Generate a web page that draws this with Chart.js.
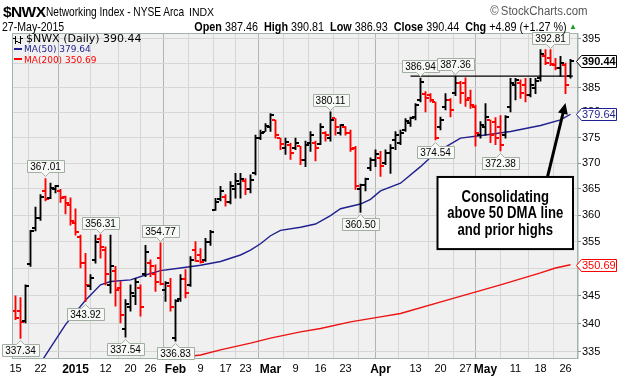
<!DOCTYPE html>
<html><head><meta charset="utf-8">
<script src="https://cdn.jsdelivr.net/npm/chart.js@4.4.1/dist/chart.umd.min.js"></script>
<style>
html,body{margin:0;padding:0;background:#fff;}
#wrap{position:relative;width:617px;height:377px;font-family:"Liberation Sans",Arial,sans-serif;overflow:hidden;}
canvas{position:absolute;left:0;top:0;}
.t{position:absolute;white-space:nowrap;color:#000;line-height:1;}
</style></head><body>
<div id="wrap">
<canvas id="c" width="617" height="377"></canvas>
<div class="t" style="left:3px;top:4px;font-size:15.5px;font-weight:bold;letter-spacing:-0.6px;">$NWX</div>
<div class="t" style="left:46px;top:5px;font-size:13px;transform:scaleX(0.78);transform-origin:0 0;">Networking Index - NYSE Arca</div>
<div class="t" style="left:189px;top:7px;font-size:10.5px;">INDX</div>
<div class="t" style="right:29px;top:5px;font-size:12px;color:#555;transform:scaleX(0.95);transform-origin:100% 0;">&copy;&thinsp;StockCharts.com</div>
<div class="t" style="left:2px;top:21px;font-size:12px;transform:scaleX(0.88);transform-origin:0 0;">27-May-2015</div>
<div class="t" style="right:50px;top:21px;font-size:12px;transform:scaleX(0.9);transform-origin:100% 0;"><b>Open</b> 387.46 &nbsp;<b>High</b> 390.81 &nbsp;<b>Low</b> 386.93 &nbsp;<b>Close</b> 390.44 &nbsp;<b>Chg</b> +4.89 (+1.27 %)</div>
<div class="t" style="right:40px;top:23px;font-size:8px;color:#19a019;">&#9650;</div>
</div>
<script>
// ---- data ----
const openP  = [342.3,342.2,340.5,350.8,357.5,359.5,364.6,363.2,365.0,364.5,363.4,362.0,358.5,355.9,351.0,346.8,351.5,355.5,353.5,347.0,349.5,346.5,339.0,343.0,345.0,346.5,349.0,351.0,349.0,352.0,346.0,346.8,337.5,344.5,348.0,347.0,353.5,352.5,351.5,355.0,361.0,363.0,363.5,362.5,365.0,366.0,366.5,365.0,368.0,375.0,376.2,377.0,378.5,374.9,373.0,373.5,373.0,373.3,370.5,374.0,374.0,373.8,376.0,375.0,378.8,376.0,377.0,376.0,373.0,365.0,365.8,369.0,370.5,371.0,370.0,372.0,374.5,374.0,376.5,377.8,379.0,382.5,383.8,383.5,382.0,377.0,381.0,382.5,384.0,386.0,386.0,383.0,381.0,375.5,377.0,378.5,378.0,377.0,375.5,381.0,385.5,386.0,385.5,383.5,385.0,387.0,391.5,391.0,389.7,389.0,389.7,387.46];
const highP  = [345.0,344.7,347.0,357.1,361.5,363.9,367.01,366.1,365.7,364.9,363.6,363.3,361.2,356.2,352.8,348.9,356.2,356.31,354.0,356.2,350.4,347.6,344.3,347.0,348.2,347.0,354.3,351.6,350.7,354.77,347.6,348.2,344.3,348.9,349.8,352.2,355.0,353.7,355.6,357.1,363.2,365.5,363.9,366.4,368.0,368.0,367.0,367.7,375.5,376.5,377.8,379.8,378.5,374.9,374.9,373.9,374.9,373.3,374.3,376.2,374.3,377.8,376.2,380.11,378.8,377.6,377.2,376.5,373.3,365.9,367.1,371.0,372.6,372.3,372.6,373.6,376.2,376.5,378.8,379.1,381.8,386.94,384.2,383.8,382.1,379.1,383.8,382.8,387.36,386.3,387.0,384.5,381.5,378.2,381.8,378.5,379.0,379.4,379.4,386.9,386.9,386.6,386.9,386.9,386.9,392.8,392.8,392.81,391.0,391.4,390.0,390.81];
const lowP   = [340.7,337.34,340.1,350.4,357.0,359.0,362.7,363.1,364.2,362.4,360.2,358.1,356.2,350.1,343.92,346.1,351.0,351.9,347.0,345.5,343.1,340.1,337.54,342.2,343.4,341.3,348.5,348.5,345.8,347.0,344.0,342.2,336.83,344.0,344.6,346.7,351.3,351.0,351.3,354.3,360.9,362.7,361.7,362.1,363.2,363.2,363.9,364.2,367.7,374.6,376.2,376.2,374.9,372.6,371.7,370.7,372.6,369.7,369.3,372.3,370.4,373.6,374.3,374.3,375.5,375.5,375.5,372.3,364.9,360.50,364.6,368.5,369.3,367.4,369.7,368.0,372.6,373.6,376.2,377.2,378.5,382.1,380.1,382.1,374.54,376.5,380.5,379.1,383.4,381.8,381.2,380.8,373.3,374.9,375.5,374.0,373.6,372.38,374.9,380.1,382.5,382.8,382.1,383.1,383.8,386.3,389.7,389.5,388.6,387.3,383.8,386.93];
const closeP = [341.0,340.2,346.8,357.0,359.5,363.4,363.0,365.2,365.5,363.3,362.3,358.8,356.8,351.0,347.0,348.3,355.0,354.0,349.0,350.5,346.0,341.5,343.5,345.5,347.5,343.0,353.0,350.5,347.5,347.2,347.4,343.0,344.0,348.0,345.5,351.5,351.3,351.2,355.0,356.8,362.5,364.5,362.5,365.5,366.5,367.0,365.0,366.8,375.0,376.0,377.2,379.5,375.5,373.8,374.2,372.0,374.0,370.5,373.5,375.5,373.0,377.0,375.5,378.5,377.0,377.4,376.0,372.8,365.5,365.7,366.9,370.5,371.8,369.5,372.0,373.0,375.5,376.0,378.2,378.8,381.5,386.2,383.0,382.6,375.0,378.5,382.5,380.5,386.0,384.0,382.5,381.5,376.0,377.5,379.0,375.5,375.0,373.5,379.0,386.0,386.5,384.0,383.5,385.5,386.3,391.8,390.0,389.8,389.0,390.0,385.55,390.44];

const ma50Idx = [5,10,14,17,19,23,26,29,33,37,41,45,47,49,51,53,57,60,63,65,69,71,73,77,81,84,89,94,99,105,109,111];
const ma50Val = [333.0,339.8,344.2,347.0,347.6,347.9,348.8,349.6,350.1,350.6,351.3,352.5,353.4,354.6,356.1,357.1,357.7,358.3,359.9,361.2,362.1,363.0,364.6,366.1,369.3,372.0,374.9,375.5,376.2,377.4,378.5,379.64];
const ma200Idx = [28,33,37,41,47,51,57,61,67,73,77,87,97,105,108,111];
const ma200Val = [333.6,334.0,334.4,335.3,336.5,337.4,338.5,339.1,340.3,341.2,341.8,344.4,347.0,349.2,350.1,350.69];

const xTickIdx = [0,5,12,18,23,27,32,37,42,46,51,56,61,66,71,73,80,85,90,94,100,105,110];
const xTickLbl = ['15','22','2015','12','20','26','Feb','9','17','23','Mar','9','16','23','','Apr','13','20','27','May','11','18','26'];
const yTickVals = [335,340,345,350,355,360,365,370,375,380,385,390,395];

const markIdx  = [1,6,14,17,22,29,32,63,69,81,84,88,97,107];
const markType = ['L','H','L','H','L','H','L','H','L','H','L','H','L','H'];

const resistLevel = 387.36;
const resistFrom = 79;
const noteLines = ['Consolidating','above 50 DMA line','and prior highs'];
const legendMain = '$NWX (Daily) 390.44';
const legendMA50 = 'MA(50) 379.64';
const legendMA200 = 'MA(200) 350.69';

// ---- helpers ----
const RED = '#ff0000', BLK = '#000000', NAVY = '#1f1f8f', MARED = '#ee1111';
const N = closeP.length;
const idx = Array.from({length:N},(_,i)=>i);
const barColor = idx.map(i => closeP[i] < (i ? closeP[i-1] : openP[i]) ? RED : BLK);
function tickImg(side,color){
  const c=document.createElement('canvas');c.width=11;c.height=2;
  const g=c.getContext('2d');g.fillStyle=color;
  if(side==='L') g.fillRect(2,0,3,2); else g.fillRect(6,0,3,2);
  return c;
}
const imgs = {L:{[RED]:tickImg('L',RED),[BLK]:tickImg('L',BLK)},R:{[RED]:tickImg('R',RED),[BLK]:tickImg('R',BLK)}};

const bgPlugin = {
  id:'bg',
  beforeDraw(chart){
    const {ctx,chartArea:a}=chart;
    ctx.save();ctx.fillStyle='#f0f0f0';ctx.fillRect(Math.floor(a.left),a.top,a.right-Math.floor(a.left),a.bottom-a.top);ctx.restore();
  },
  afterDraw(chart){
    const {ctx,chartArea:a,scales}=chart;
    const xs=scales.x, ys=scales.y;
    ctx.save();
    ctx.strokeStyle='#9fb4aa';ctx.lineWidth=1;
    ctx.strokeRect(Math.floor(a.left)+0.5,a.top+0.5,a.right-Math.floor(a.left)-1,a.bottom-a.top-1);
    // callouts
    ctx.font='10px "Liberation Sans", Arial, sans-serif';
    ctx.textAlign='center';ctx.textBaseline='middle';
    markIdx.forEach((i,k)=>{
      const hi = markType[k]==='H';
      const v = hi ? highP[i] : lowP[i];
      const px = Math.floor(xs.getPixelForValue(i))+0.5;
      const py = ys.getPixelForValue(v);
      const txt = v.toFixed(2);
      const w = Math.round(ctx.measureText(txt).width)+6, h=12;
      const bx = Math.round(px - w/2)+0.5;
      let by = hi ? Math.round(py - 6 - h)+0.5 : Math.round(py + 6)+0.5;
      ctx.beginPath();
      if(hi){
        ctx.moveTo(bx,by);ctx.lineTo(bx+w,by);ctx.lineTo(bx+w,by+h);
        ctx.lineTo(px+4,by+h);ctx.lineTo(px,by+h+4);ctx.lineTo(px-4,by+h);ctx.lineTo(bx,by+h);
      } else {
        ctx.moveTo(bx,by);ctx.lineTo(px-4,by);ctx.lineTo(px,by-4);ctx.lineTo(px+4,by);
        ctx.lineTo(bx+w,by);ctx.lineTo(bx+w,by+h);ctx.lineTo(bx,by+h);
      }
      ctx.closePath();
      ctx.fillStyle='#f7f9f7';ctx.fill();
      ctx.strokeStyle='#a3aea3';ctx.lineWidth=1;ctx.stroke();
      ctx.fillStyle='#000';ctx.fillText(txt,px,by+h/2+0.5);
    });
    // note box
    const l=xs.getPixelForValue(84.4), r=xs.getPixelForValue(111.5);
    const t=ys.getPixelForValue(367.3), b=ys.getPixelForValue(353.6);
    ctx.fillStyle='#fff';ctx.fillRect(l,t,r-l,b-t);
    ctx.strokeStyle='#000';ctx.lineWidth=2;ctx.strokeRect(l,t,r-l,b-t);
    ctx.font='bold 16px "Liberation Sans", Arial, sans-serif';
    ctx.fillStyle='#000';
    const cx=(l+r)/2, cy=(t+b)/2;
    noteLines.forEach((s,k)=>{
      ctx.save();ctx.translate(cx,cy+(k-1)*16.3+1);ctx.scale(0.82,1);ctx.fillText(s,0,0);ctx.restore();
    });
    // arrow
    const ax0=xs.getPixelForValue(106.4), ay0=t;
    const ax1=xs.getPixelForValue(110), ay1=ys.getPixelForValue(381.9);
    const ang=Math.atan2(ay1-ay0,ax1-ax0);
    ctx.strokeStyle='#000';ctx.lineWidth=3;
    ctx.beginPath();ctx.moveTo(ax0,ay0);ctx.lineTo(ax1-8*Math.cos(ang),ay1-8*Math.sin(ang));ctx.stroke();
    ctx.beginPath();ctx.moveTo(ax1,ay1);
    ctx.lineTo(ax1-11*Math.cos(ang)+5*Math.sin(ang),ay1-11*Math.sin(ang)-5*Math.cos(ang));
    ctx.lineTo(ax1-11*Math.cos(ang)-5*Math.sin(ang),ay1-11*Math.sin(ang)+5*Math.cos(ang));
    ctx.closePath();ctx.fillStyle='#000';ctx.fill();
    // right value tags
    const tags=[[closeP[N-1],'#000',true],[ma50Val[ma50Val.length-1],NAVY,false],[ma200Val[ma200Val.length-1],RED,false]];
    tags.forEach(([v,col,bold])=>{
      const py=Math.round(ys.getPixelForValue(v))+0.5;
      const x0=a.right-1.5, x1=a.right+3.5, x2=616.5;
      ctx.beginPath();ctx.moveTo(x0,py);ctx.lineTo(x1,py-6);ctx.lineTo(x2,py-6);ctx.lineTo(x2,py+6);ctx.lineTo(x1,py+6);ctx.closePath();
      ctx.fillStyle='#fff';ctx.fill();ctx.strokeStyle=col;ctx.lineWidth=1;ctx.stroke();
      ctx.font=(bold?'bold 11px ':'11px ')+'"Liberation Sans", Arial, sans-serif';
      ctx.fillStyle=col;ctx.textAlign='left';
      ctx.fillText(v.toFixed(2),a.right+4,py+0.5);
    });
    // legend
    ctx.textAlign='left';ctx.textBaseline='alphabetic';
    ctx.fillStyle='#000';
    ctx.fillRect(15,36,1,8);ctx.fillRect(13,38,2,1);ctx.fillRect(16,41,2,1);
    ctx.fillRect(20,36,1,8);ctx.fillRect(18,42,2,1);ctx.fillRect(21,38,2,1);
    ctx.font='11px "DejaVu Sans", Verdana, sans-serif';
    ctx.fillText(legendMain,26,42);
    ctx.font='9px "DejaVu Sans", Verdana, sans-serif';
    ctx.fillStyle=NAVY;ctx.fillRect(14,48,8,2);ctx.fillText(legendMA50,24,52);
    ctx.fillStyle=RED;ctx.fillRect(14,58,8,2);ctx.fillText(legendMA200,24,63);
    ctx.restore();
  }
};

const isBoldLbl = s => ['2015','Feb','Mar','Apr','May'].includes(s);
const FAM='"Liberation Sans", Arial, sans-serif';

new Chart(document.getElementById('c'),{
  type:'bar',
  data:{datasets:[
    {type:'line',data:ma200Idx.map((x,k)=>({x,y:ma200Val[k]})),borderColor:MARED,borderWidth:1.4,pointRadius:0,order:5},
    {type:'line',data:ma50Idx.map((x,k)=>({x,y:ma50Val[k]})),borderColor:NAVY,borderWidth:1.4,pointRadius:0,order:4},
    {type:'line',data:[{x:resistFrom,y:resistLevel},{x:111.5,y:resistLevel}],borderColor:'#000',borderWidth:1.3,pointRadius:0,order:3},
    {type:'bar',data:idx.map(i=>({x:i,y:[lowP[i],highP[i]]})),backgroundColor:barColor,barThickness:1.2,grouped:false,order:2},
    {type:'scatter',data:idx.map(i=>({x:i,y:openP[i]})),pointStyle:c=>imgs.L[barColor[c.dataIndex]||BLK],pointRadius:3,order:1},
    {type:'scatter',data:idx.map(i=>({x:i,y:closeP[i]})),pointStyle:c=>imgs.R[barColor[c.dataIndex]||BLK],pointRadius:3,order:1}
  ]},
  options:{
    responsive:false,animation:false,events:[],
    layout:{padding:{left:12.5,top:33,right:0,bottom:0}},
    plugins:{legend:{display:false},tooltip:{enabled:false}},
    scales:{
      x:{type:'linear',min:-0.6,max:112.5,offset:false,
        afterBuildTicks:s=>{s.ticks=xTickIdx.map(v=>({value:v}));},
        afterFit:s=>{s.height=18;},
        ticks:{autoSkip:false,maxRotation:0,padding:3,color:'#000',
          callback:(v,i)=>xTickLbl[i],
          font:c=>isBoldLbl(xTickLbl[c.index])?{family:FAM,size:12,weight:'bold'}:{family:FAM,size:11}},
        grid:{drawTicks:false,color:c=>{const s=xTickLbl[c.index];return (isBoldLbl(s))?'#b4b4b4':'#d6d6d6';}},
        border:{display:false}},
      y:{type:'logarithmic',position:'right',min:333.7,max:396.25,
        afterBuildTicks:s=>{s.ticks=yTickVals.map(v=>({value:v}));},
        afterFit:s=>{s.width=39;},
        ticks:{autoSkip:false,padding:1,color:'#000',callback:v=>String(v),font:{family:FAM,size:11}},
        grid:{color:'#d6d6d6',tickLength:3,tickColor:'#7f9a8e'},
        border:{display:false}}
    }
  },
  plugins:[bgPlugin]
});
</script>
</body></html>
